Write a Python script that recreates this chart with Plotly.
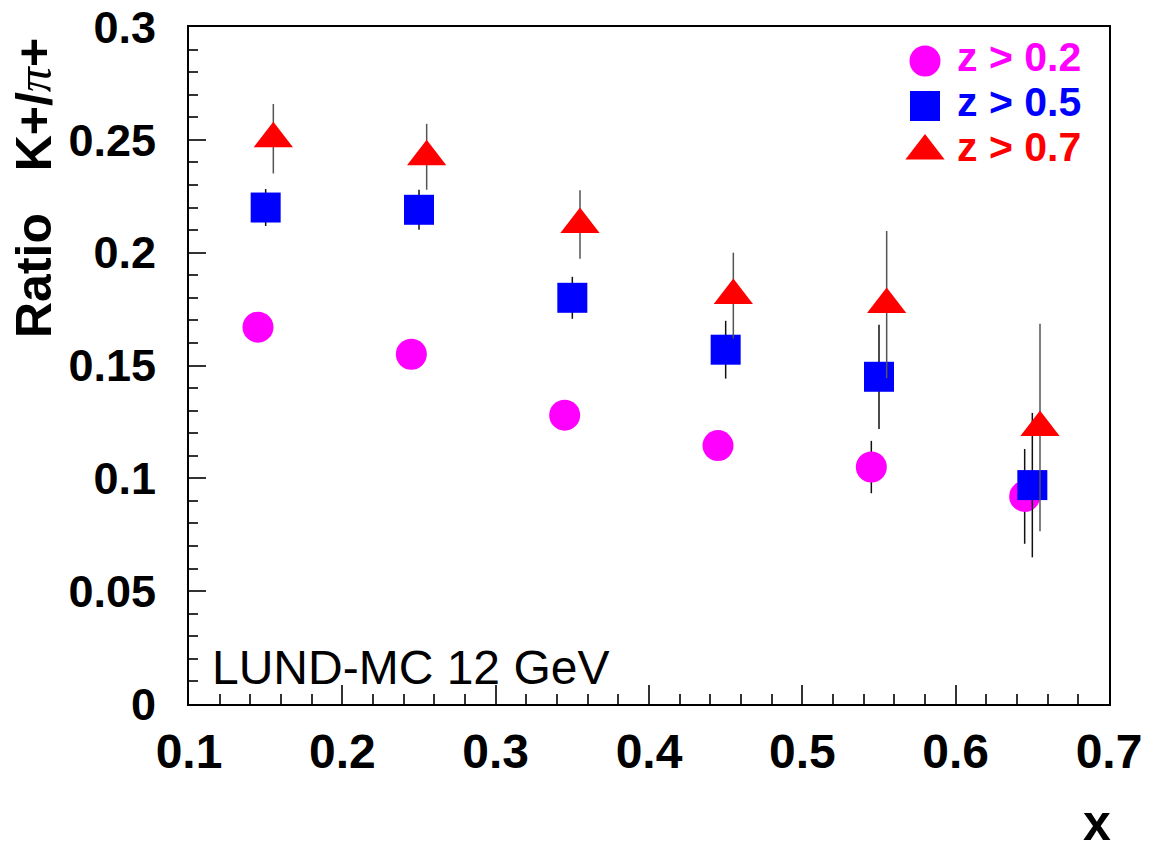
import plotly.graph_objects as go

# Kaon/pion ratio vs Bjorken x for three hadron energy-fraction cuts
x_z02 = [0.145, 0.245, 0.345, 0.445, 0.545, 0.645]
ratio_z02 = [0.167, 0.155, 0.128, 0.1145, 0.105, 0.092]
err_z02 = [0.004, 0.004, 0.004, 0.005, 0.0116, 0.021]

x_z05 = [0.150, 0.250, 0.350, 0.450, 0.550, 0.650]
ratio_z05 = [0.220, 0.219, 0.180, 0.157, 0.145, 0.097]
err_z05 = [0.0082, 0.0089, 0.0093, 0.0128, 0.0231, 0.032]

x_z07 = [0.155, 0.255, 0.355, 0.455, 0.555, 0.655]
ratio_z07 = [0.2505, 0.2425, 0.2125, 0.181, 0.177, 0.1225]
err_z07 = [0.0154, 0.0146, 0.0152, 0.019, 0.0326, 0.046]

series_labels = ["z > 0.2", "z > 0.5", "z > 0.7"]
series_colors = ["#ff00ff", "#0000ff", "#ff0000"]
series_symbols = ["circle", "square", "triangle-up"]
series_sizes = [31, 30, 34]
bar_colors = ["#111111", "#111111", "#555555"]

x_ticks = [0.1, 0.2, 0.3, 0.4, 0.5, 0.6, 0.7]
y_ticks = [0, 0.05, 0.1, 0.15, 0.2, 0.25, 0.3]

W, H = 1155, 848
L, R, T, B = 189, 1109, 27, 704  # plot-area edges in page pixels


def px_x(p):
    return (p - L) / (R - L)


def px_y(p):
    return (B - p) / (B - T)


fig = go.Figure()

data = [(x_z02, ratio_z02, err_z02), (x_z05, ratio_z05, err_z05), (x_z07, ratio_z07, err_z07)]
for (xs, ys, es), name, col, sym, sz, bc in zip(data, series_labels, series_colors,
                                               series_symbols, series_sizes, bar_colors):
    fig.add_trace(go.Scatter(
        x=xs, y=ys, mode="markers", name=name, showlegend=False,
        marker=dict(symbol=sym, size=sz, color=col, line=dict(width=0)),
        error_y=dict(type="data", array=es, visible=True, color=bc, thickness=1.5, width=0),
    ))

# Legend keys drawn on an overlay axis spanning the plot area in paper units
key_x = px_x(925)
key_y = [px_y(61), px_y(106), px_y(151)]
for i in range(3):
    fig.add_trace(go.Scatter(
        x=[key_x], y=[key_y[i]], xaxis="x2", yaxis="y2", mode="markers", showlegend=False,
        marker=dict(symbol=series_symbols[i], size=series_sizes[i], color=series_colors[i],
                    line=dict(width=0)),
        hoverinfo="skip",
    ))

text_y = [px_y(57), px_y(102), px_y(147)]
for i in range(3):
    fig.add_annotation(
        x=px_x(955), y=text_y[i], xref="paper", yref="paper", text=series_labels[i],
        showarrow=False, xanchor="left", yanchor="middle",
        font=dict(family="Liberation Sans, Arial, sans-serif", size=41, color=series_colors[i],
                  weight="bold"),
    )

fig.add_annotation(
    x=px_x(210), y=px_y(696), xref="paper", yref="paper", text="LUND-MC 12 GeV",
    showarrow=False, xanchor="left", yanchor="bottom",
    font=dict(family="Liberation Sans, Arial, sans-serif", size=48, color="black"),
)

fig.add_annotation(
    x=px_x(34), y=px_y(188), xref="paper", yref="paper", textangle=-90,
    text="Ratio\u00a0\u00a0\u00a0K+/<span style=\"font-family:'Liberation Serif';"
         "font-style:italic;font-weight:normal\">π</span>+",
    showarrow=False, xanchor="center", yanchor="middle",
    font=dict(family="Liberation Sans, Arial, sans-serif", size=50, color="black", weight="bold"),
)

fig.add_annotation(
    x=px_x(1097), y=px_y(823), xref="paper", yref="paper", text="x",
    showarrow=False, xanchor="center", yanchor="middle",
    font=dict(family="Liberation Sans, Arial, sans-serif", size=50,
              color="black", weight="bold"),
)

fig.update_layout(
    width=W, height=H,
    margin=dict(l=L, r=W - R, t=T, b=H - B, autoexpand=False),
    paper_bgcolor="white", plot_bgcolor="white",
    showlegend=False,
    xaxis=dict(
        range=[0.1, 0.7], tickvals=x_ticks, ticktext=[f"{v:g}" for v in x_ticks],
        ticks="inside", ticklen=19, tickwidth=1.5, tickcolor="#333333",
        minor=dict(dtick=0.02, tick0=0.1, ticks="inside", ticklen=10, tickwidth=1.5,
                   tickcolor="#333333", showgrid=False),
        showline=True, linewidth=2, linecolor="black", mirror=True,
        showgrid=False, zeroline=False, ticklabelstandoff=4, automargin=False,
        tickfont=dict(family="Liberation Sans, Arial, sans-serif",
                      size=48, color="black", weight="bold"),
    ),
    yaxis=dict(
        range=[0, 0.3], tickvals=y_ticks, ticktext=[f"{v:g}" for v in y_ticks],
        ticks="inside", ticklen=17, tickwidth=1.5, tickcolor="#333333",
        minor=dict(dtick=0.01, tick0=0, ticks="inside", ticklen=9, tickwidth=1.5,
                   tickcolor="#333333", showgrid=False),
        showline=True, linewidth=2, linecolor="black", mirror=True,
        showgrid=False, zeroline=False, ticklabelstandoff=22, automargin=False,
        tickfont=dict(family="Liberation Sans, Arial, sans-serif", size=45, color="black",
                      weight="bold"),
    ),
    xaxis2=dict(overlaying="x", range=[0, 1], visible=False, fixedrange=True, automargin=False),
    yaxis2=dict(overlaying="y", range=[0, 1], visible=False, fixedrange=True, automargin=False),
)

fig.write_html("out.html")
